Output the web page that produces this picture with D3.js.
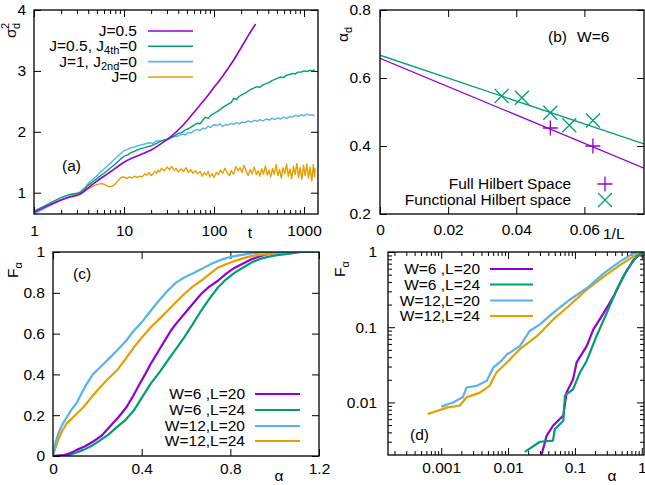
<!DOCTYPE html>
<html><head><meta charset="utf-8">
<script src="https://cdn.jsdelivr.net/npm/d3@7"></script>
<style>body{margin:0;background:#fff} svg text{font-family:"Liberation Sans",Arial,sans-serif;fill:#000}</style>
</head><body><svg id="c" width="645" height="485"></svg>
<script>
// ---------- DATA ----------
const colors = {purple:"#9400d3", green:"#009e73", blue:"#56b4e9", orange:"#e69f00"};

// panel (a): sigma_d^2 vs t
const aPurple = [[1,0.68],[1.5,0.80],[2,0.88],[2.5,0.93],[3,0.96],[3.5,1.01],[4,1.08],[5,1.19],[6,1.27],[7,1.34],[8,1.40],[10,1.50],[12,1.56],[15,1.62],[20,1.70],[25,1.79],[30,1.87],[35,1.95],[40,2.03],[46,2.12],[52,2.21],[60,2.32],[70,2.44],[85,2.59],[100,2.73],[120,2.88],[140,3.02],[164,3.17],[200,3.38],[240,3.58],[290,3.77]];
const aGreen = [[1,0.70],[1.3,0.78],[1.6,0.85],[2,0.92],[2.5,0.97],[3,0.99],[3.3,1.01],[3.7,1.07],[4,1.12],[4.5,1.18],[5,1.23],[5.5,1.28],[6,1.32],[7,1.40],[8,1.47],[9,1.54],[10,1.60],[11,1.62],[12,1.66],[13,1.68],[15,1.72],[17,1.74],[20,1.77],[23,1.81],[26,1.85],[30,1.88],[33,1.91],[36,1.93],[40,1.97],[44,1.99],[48,2.03],[52,2.05],[56,2.08],[60,2.11],[65,2.14],[70,2.13],[75,2.19],[80,2.24],[86,2.22],[92,2.27],[100,2.30],[108,2.33],[116,2.36],[125,2.40],[135,2.43],[145,2.46],[155,2.48],[165,2.55],[178,2.53],[190,2.58],[205,2.61],[220,2.63],[240,2.67],[260,2.70],[280,2.72],[300,2.74],[325,2.73],[350,2.77],[380,2.79],[410,2.81],[440,2.84],[475,2.86],[510,2.88],[550,2.90],[590,2.89],[640,2.93],[690,2.94],[740,2.96],[800,2.95],[860,2.98],[930,2.98],[1000,3.00],[1080,2.99],[1160,3.01],[1240,3.00],[1310,3.02]];
const aBlue = [[1,0.65],[1.3,0.74],[1.6,0.81],[2,0.88],[2.5,0.94],[3,0.98],[3.3,1.02],[3.7,1.09],[4,1.15],[4.5,1.22],[5,1.28],[5.5,1.34],[6,1.39],[7,1.48],[8,1.56],[9,1.63],[10,1.69],[11,1.71],[12,1.74],[13,1.75],[15,1.78],[17,1.80],[19,1.82],[21,1.81],[23,1.85],[26,1.85],[30,1.87],[33,1.89],[36,1.92],[40,1.93],[44,1.96],[48,1.95],[52,1.99],[56,1.98],[60,2.02],[65,2.04],[70,2.02],[75,2.06],[80,2.05],[86,2.09],[92,2.07],[100,2.12],[108,2.10],[116,2.13],[125,2.09],[135,2.12],[145,2.11],[155,2.14],[165,2.12],[178,2.15],[190,2.13],[205,2.16],[220,2.15],[240,2.18],[260,2.16],[280,2.19],[300,2.17],[325,2.20],[350,2.18],[380,2.21],[410,2.19],[440,2.22],[475,2.20],[510,2.23],[550,2.21],[590,2.24],[640,2.22],[690,2.25],[740,2.24],[800,2.27],[860,2.25],[930,2.28],[1000,2.26],[1080,2.29],[1160,2.27],[1240,2.28],[1310,2.26]];
const aOrange = [[1,0.67],[1.3,0.75],[1.6,0.82],[2,0.88],[2.4,0.92],[2.8,0.94],[3.1,0.95],[3.4,0.99],[3.8,1.04],[4.2,1.08],[4.7,1.12],[5.2,1.14],[5.7,1.15],[6.2,1.13],[6.7,1.10],[7.2,1.10],[7.7,1.12],[8.2,1.16],[8.7,1.21],[9.3,1.25],[10,1.26],[10.7,1.23],[11.5,1.26],[12.3,1.24],[13,1.27],[14,1.25],[15,1.27],[16,1.26],[17,1.31],[18,1.29],[19,1.33],[20,1.28],[21,1.31],[22,1.35],[23,1.32],[24,1.37],[25,1.34],[26,1.40],[28,1.36],[30,1.42],[32,1.38],[34,1.43],[36,1.37],[38,1.40],[40,1.34],[43,1.39],[46,1.35],[49,1.41],[52,1.33],[55,1.38],[58,1.32],[62,1.36],[66,1.31],[70,1.35],[74,1.27],[78,1.33],[82,1.29],[86,1.35],[90,1.26],[95,1.31],[100,1.25],[106,1.33],[112,1.30],[118,1.37],[125,1.32],[132,1.40],[140,1.33],[148,1.28],[156,1.36],[165,1.30],[175,1.43],[185,1.36],[195,1.41],[205,1.33],[215,1.45],[228,1.35],[240,1.28],[252,1.38],[265,1.31],[280,1.42],[295,1.30],[310,1.36],[325,1.27],[340,1.39],[355,1.30],[372,1.44],[390,1.29],[408,1.37],[427,1.26],[447,1.40],[468,1.30],[490,1.46],[512,1.28],[535,1.38],[560,1.24],[585,1.41],[612,1.31],[640,1.47],[668,1.27],[698,1.39],[730,1.23],[762,1.43],[796,1.30],[832,1.48],[868,1.25],[906,1.41],[946,1.22],[988,1.45],[1030,1.28],[1075,1.47],[1120,1.24],[1170,1.42],[1220,1.19],[1270,1.46],[1310,1.26],[1330,1.40]];
const aXTicks = [1,10,100,1000];
const aYTicks = [1,2,3,4];

// panel (b): alpha_d vs 1/L
const bFullX = [1/20, 1/16];
const bFullY = [0.453, 0.400];
const bFuncX = [1/28, 1/24, 1/20, 1/18, 1/16];
const bFuncY = [0.547, 0.542, 0.498, 0.461, 0.475];
const bFitX = [0, 0.0775];
const bFitFull = [0.658, 0.335];
const bFitFunc = [0.667, 0.406];
const bXTicks = [0, 0.02, 0.04, 0.06];
const bYTicks = [0.2, 0.4, 0.6, 0.8];

// panel (c): F_alpha vs alpha (linear)
const cW6L20 = [[0,0],[0.05,0.005],[0.08,0.015],[0.107,0.03],[0.14,0.045],[0.18,0.07],[0.22,0.10],[0.256,0.143],[0.295,0.19],[0.332,0.24],[0.362,0.295],[0.392,0.355],[0.418,0.405],[0.441,0.452],[0.465,0.495],[0.486,0.533],[0.51,0.575],[0.532,0.615],[0.56,0.655],[0.592,0.696],[0.63,0.745],[0.668,0.794],[0.705,0.83],[0.744,0.859],[0.78,0.893],[0.82,0.923],[0.86,0.945],[0.895,0.964],[0.93,0.978],[0.97,0.99],[1.01,0.997],[1.05,1.0],[1.2,1.0]];
const cW6L24 = [[0,0],[0.062,0.002],[0.1,0.015],[0.138,0.03],[0.175,0.05],[0.214,0.078],[0.25,0.105],[0.289,0.143],[0.33,0.18],[0.365,0.224],[0.40,0.285],[0.441,0.355],[0.48,0.41],[0.517,0.468],[0.555,0.525],[0.592,0.582],[0.63,0.645],[0.668,0.712],[0.705,0.77],[0.744,0.826],[0.78,0.865],[0.82,0.899],[0.86,0.925],[0.895,0.948],[0.93,0.965],[0.97,0.976],[1.01,0.985],[1.05,0.99],[1.09,0.996],[1.12,1.0],[1.2,1.0]];
const cW12L20 = [[0,0],[0.005,0.03],[0.012,0.07],[0.024,0.11],[0.04,0.15],[0.062,0.19],[0.085,0.23],[0.107,0.26],[0.13,0.31],[0.153,0.355],[0.18,0.40],[0.214,0.436],[0.25,0.475],[0.289,0.517],[0.33,0.565],[0.365,0.615],[0.40,0.655],[0.441,0.712],[0.48,0.765],[0.517,0.81],[0.555,0.85],[0.592,0.875],[0.63,0.895],[0.668,0.915],[0.71,0.94],[0.744,0.956],[0.78,0.97],[0.82,0.98],[0.86,0.987],[0.895,0.993],[0.93,0.997],[0.97,1.0],[1.2,1.0]];
const cW12L24 = [[0,0],[0.008,0.03],[0.024,0.08],[0.04,0.12],[0.062,0.16],[0.1,0.20],[0.138,0.24],[0.175,0.29],[0.214,0.338],[0.25,0.38],[0.289,0.42],[0.33,0.48],[0.365,0.533],[0.40,0.58],[0.441,0.631],[0.48,0.672],[0.517,0.712],[0.555,0.755],[0.592,0.794],[0.63,0.83],[0.668,0.859],[0.71,0.895],[0.744,0.923],[0.78,0.94],[0.82,0.956],[0.86,0.97],[0.895,0.98],[0.93,0.986],[0.97,0.99],[1.02,0.997],[1.07,1.0],[1.2,1.0]];
const cXTicks = [0, 0.4, 0.8, 1.2];
const cYTicks = [0, 0.2, 0.4, 0.6, 0.8, 1];

// panel (d): F_alpha vs alpha (log-log)
const dW6L20 = [[0.0317,0.002],[0.0377,0.0036],[0.047,0.0049],[0.067,0.0067],[0.075,0.0136],[0.094,0.0204],[0.106,0.034],[0.15,0.056],[0.188,0.093],[0.27,0.155],[0.38,0.257],[0.53,0.47],[0.75,0.784],[1.05,1]];
const dW6L24 = [[0.0178,0.0022],[0.03,0.003],[0.047,0.0031],[0.05,0.0044],[0.067,0.0057],[0.071,0.0123],[0.094,0.015],[0.119,0.025],[0.15,0.0356],[0.21,0.076],[0.30,0.155],[0.42,0.315],[0.60,0.58],[0.84,0.867],[1.07,1]];
const dW12L20 = [[0.001,0.0088],[0.0015,0.010],[0.0021,0.0117],[0.0024,0.0158],[0.0034,0.0166],[0.0048,0.0194],[0.006,0.029],[0.0079,0.0356],[0.0096,0.0435],[0.015,0.056],[0.021,0.089],[0.03,0.109],[0.047,0.155],[0.084,0.232],[0.15,0.33],[0.27,0.52],[0.47,0.745],[0.75,0.96],[0.97,1]];
const dW12L24 = [[0.00063,0.0070],[0.00126,0.0086],[0.0019,0.0091],[0.0024,0.0117],[0.0038,0.0135],[0.0053,0.0166],[0.0067,0.025],[0.0096,0.034],[0.015,0.051],[0.027,0.076],[0.047,0.126],[0.075,0.18],[0.15,0.315],[0.27,0.47],[0.47,0.67],[0.75,0.87],[1.05,1]];
const dXTicks = [0.001, 0.01, 0.1, 1];
const dYTicks = [0.01, 0.1, 1];

// ---------- DRAW ----------
const svg = d3.select("#c");
const FS = 15.5;

function logMinor(lo, hi) {
  const out = [];
  for (let e = Math.floor(Math.log10(lo)); e <= Math.ceil(Math.log10(hi)); e++) {
    for (let m = 2; m <= 9; m++) { const v = m * Math.pow(10, e); if (v > lo && v < hi) out.push(v); }
  }
  return out;
}

function panel(id, x, y, o) {
  const g = svg.append("g");
  const [x0, x1] = x.range(), [y1, y0] = y.range();
  g.append("clipPath").attr("id", "clip" + id).append("rect")
    .attr("x", x0).attr("y", y0).attr("width", x1 - x0).attr("height", y1 - y0);
  const styleAxis = sel => {
    sel.select(".domain").remove();
    sel.selectAll("line").attr("stroke", "#000").attr("stroke-width", 1);
    sel.selectAll("text").attr("font-size", FS).attr("font-family", '"Liberation Sans",Arial,sans-serif').attr("fill", "#000");
    sel.attr("font-size", null).attr("font-family", null);
  };
  g.append("g").attr("transform", `translate(0,${y1})`)
    .call(d3.axisBottom(x).tickValues(o.xTicks).tickSize(-7).tickPadding(o.xPad).tickFormat(o.xFmt)).call(styleAxis);
  g.append("g").attr("transform", `translate(0,${y0})`)
    .call(d3.axisTop(x).tickValues(o.xTicks).tickSize(-7).tickFormat("")).call(styleAxis);
  g.append("g").attr("transform", `translate(${x0},0)`)
    .call(d3.axisLeft(y).tickValues(o.yTicks).tickSize(-7).tickPadding(o.yPad).tickFormat(o.yFmt)).call(styleAxis);
  g.append("g").attr("transform", `translate(${x1},0)`)
    .call(d3.axisRight(y).tickValues(o.yTicks).tickSize(-7).tickFormat("")).call(styleAxis);
  if (o.xMinor) {
    g.append("g").attr("transform", `translate(0,${y1})`).call(d3.axisBottom(x).tickValues(o.xMinor).tickSize(-4).tickFormat("")).call(styleAxis);
    g.append("g").attr("transform", `translate(0,${y0})`).call(d3.axisTop(x).tickValues(o.xMinor).tickSize(-4).tickFormat("")).call(styleAxis);
  }
  if (o.yMinor) {
    g.append("g").attr("transform", `translate(${x0},0)`).call(d3.axisLeft(y).tickValues(o.yMinor).tickSize(-4).tickFormat("")).call(styleAxis);
    g.append("g").attr("transform", `translate(${x1},0)`).call(d3.axisRight(y).tickValues(o.yMinor).tickSize(-4).tickFormat("")).call(styleAxis);
  }
  const plot = g.append("g").attr("clip-path", `url(#clip${id})`);
  g.append("rect").attr("x", x0).attr("y", y0).attr("width", x1 - x0).attr("height", y1 - y0)
    .attr("fill", "none").attr("stroke", "#000").attr("stroke-width", 1.3);
  return {g, plot};
}

function series(plot, x, y, data, color, w, curve) {
  plot.append("path").datum(data)
    .attr("d", d3.line().curve(curve || d3.curveLinear).x(d => x(d[0])).y(d => y(d[1])))
    .attr("fill", "none").attr("stroke", color).attr("stroke-width", w).attr("stroke-linejoin", "round");
}

function legend(g, xText, xl0, xl1, ys, items, w) {
  items.forEach((it, i) => {
    const t = g.append("text").attr("x", xText).attr("y", ys[i] + 5).attr("text-anchor", "end").attr("font-size", FS);
    it.parts.forEach(p => {
      if (p.sub) t.append("tspan").attr("dy", 3).attr("font-size", 11).text(p.sub);
      else t.append("tspan").attr("dy", p.back ? -3 : 0).text(p.t);
    });
    g.append("line").attr("x1", xl0).attr("x2", xl1).attr("y1", ys[i]).attr("y2", ys[i])
      .attr("stroke", it.color).attr("stroke-width", w);
  });
}

function vlabel(cx, cy, main, sub, sup) {
  const g = svg.append("g").attr("transform", `translate(${cx},${cy}) rotate(-90)`);
  g.append("text").attr("x", 0).attr("y", 0).attr("font-size", FS).text(main);
  const w = main === "F" ? 9.5 : 9;
  if (sub) g.append("text").attr("x", w).attr("y", 4).attr("font-size", 11).text(sub);
  if (sup) g.append("text").attr("x", w).attr("y", -7).attr("font-size", 11).text(sup);
}

// Panel (a)
{
  const x = d3.scaleLog().domain([1, 1430]).range([34, 318]);
  const y = d3.scaleLinear().domain([0.65, 4]).range([214, 10]);
  const {g, plot} = panel("a", x, y, {xTicks: aXTicks, xFmt: d3.format("d"), yTicks: aYTicks, yFmt: d3.format("d"),
    xPad: 11, yPad: 8, xMinor: logMinor(1, 1430)});
  series(plot, x, y, aOrange, colors.orange, 1.4);
  series(plot, x, y, aBlue, colors.blue, 1.4);
  series(plot, x, y, aGreen, colors.green, 1.4);
  series(plot, x, y, aPurple, colors.purple, 1.6, d3.curveMonotoneX);
  legend(g, 137, 148, 193, [31, 46.3, 61.6, 77], [
    {parts: [{t: "J=0.5"}], color: colors.purple},
    {parts: [{t: "J=0.5, J"}, {sub: "4th"}, {t: "=0", back: true}], color: colors.green},
    {parts: [{t: "J=1, J"}, {sub: "2nd"}, {t: "=0", back: true}], color: colors.blue},
    {parts: [{t: "J=0"}], color: colors.orange}], 1.6);
  g.append("text").attr("x", 62).attr("y", 171).attr("font-size", FS).text("(a)");
  g.append("text").attr("x", 250).attr("y", 238).attr("text-anchor", "middle").attr("font-size", FS).text("t");
  vlabel(16, 38, "σ", "d", "2");
}

// Panel (b)
{
  const x = d3.scaleLinear().domain([0, 0.0775]).range([380, 644]);
  const y = d3.scaleLinear().domain([0.2, 0.8]).range([214, 10]);
  const {g, plot} = panel("b", x, y, {xTicks: bXTicks, xFmt: d => d === 0 ? "0" : d3.format(".2f")(d), yTicks: bYTicks, yFmt: d3.format(".1f"),
    xPad: 10, yPad: 9});
  const line = d3.line().x(d => x(d[0])).y(d => y(d[1]));
  plot.append("path").datum(bFitX.map((v, i) => [v, bFitFunc[i]])).attr("d", line).attr("fill", "none").attr("stroke", colors.green).attr("stroke-width", 1.3);
  plot.append("path").datum(bFitX.map((v, i) => [v, bFitFull[i]])).attr("d", line).attr("fill", "none").attr("stroke", colors.purple).attr("stroke-width", 1.3);
  const plus = "M-7.5,0H7.5M0,-7.5V7.5", cross = "M-7,-7L7,7M7,-7L-7,7";
  plot.selectAll(".pf").data(bFullX.map((v, i) => [v, bFullY[i]])).join("path")
    .attr("transform", d => `translate(${x(d[0])},${y(d[1])})`).attr("d", plus).attr("stroke", colors.purple).attr("stroke-width", 1.3).attr("fill", "none");
  plot.selectAll(".pc").data(bFuncX.map((v, i) => [v, bFuncY[i]])).join("path")
    .attr("transform", d => `translate(${x(d[0])},${y(d[1])})`).attr("d", cross).attr("stroke", colors.green).attr("stroke-width", 1.3).attr("fill", "none");
  g.append("text").attr("x", 571).attr("y", 189).attr("text-anchor", "end").attr("font-size", FS).text("Full Hilbert Space");
  g.append("text").attr("x", 571).attr("y", 205).attr("text-anchor", "end").attr("font-size", FS).text("Functional Hilbert space");
  g.append("path").attr("transform", "translate(605,184)").attr("d", plus).attr("stroke", colors.purple).attr("stroke-width", 1.3);
  g.append("path").attr("transform", "translate(605,200)").attr("d", cross).attr("stroke", colors.green).attr("stroke-width", 1.3);
  g.append("text").attr("x", 548).attr("y", 42).attr("font-size", FS).text("(b)");
  g.append("text").attr("x", 577).attr("y", 42).attr("font-size", FS).text("W=6");
  g.append("text").attr("x", 603).attr("y", 239).attr("font-size", FS).text("1/L");
  vlabel(348, 42, "α", "d", null);
}

// Panel (c)
{
  const x = d3.scaleLinear().domain([0, 1.2]).range([53, 319]);
  const y = d3.scaleLinear().domain([0, 1]).range([456, 252]);
  const {g, plot} = panel("c", x, y, {xTicks: cXTicks, xFmt: d => d === 0 ? "0" : d3.format(".1f")(d), yTicks: cYTicks, yFmt: d => (d === 0 || d === 1) ? d3.format("d")(d) : d3.format(".1f")(d),
    xPad: 7, yPad: 8});
  series(plot, x, y, cW6L24, colors.green, 2.2);
  series(plot, x, y, cW6L20, colors.purple, 2.2);
  series(plot, x, y, cW12L24, colors.orange, 2.2);
  series(plot, x, y, cW12L20, colors.blue, 2.2);
  legend(g, 245, 255, 300, [394, 410, 426, 441], [
    {parts: [{t: "W=6 ,L=20"}], color: colors.purple},
    {parts: [{t: "W=6 ,L=24"}], color: colors.green},
    {parts: [{t: "W=12,L=20"}], color: colors.blue},
    {parts: [{t: "W=12,L=24"}], color: colors.orange}], 2.2);
  g.append("text").attr("x", 73).attr("y", 279).attr("font-size", FS).text("(c)");
  g.append("text").attr("x", 279).attr("y", 481).attr("text-anchor", "middle").attr("font-size", FS).text("α");
  vlabel(18, 278, "F", "α", null);
}

// Panel (d)
{
  const x = d3.scaleLog().domain([1.6e-4, 1.08]).range([388, 644]);
  const y = d3.scaleLog().domain([0.002, 1]).range([455, 252]);
  const {g, plot} = panel("d", x, y, {xTicks: dXTicks, xFmt: d => String(d), yTicks: dYTicks, yFmt: d => String(d),
    xPad: 7, yPad: 11, xMinor: logMinor(1.6e-4, 1.08), yMinor: logMinor(0.002, 1)});
  series(plot, x, y, dW12L24, colors.orange, 2.2);
  series(plot, x, y, dW12L20, colors.blue, 2.2);
  series(plot, x, y, dW6L20, colors.purple, 2.2);
  series(plot, x, y, dW6L24, colors.green, 2.2);
  legend(g, 480, 490, 533, [269, 284.5, 300.5, 316], [
    {parts: [{t: "W=6 ,L=20"}], color: colors.purple},
    {parts: [{t: "W=6 ,L=24"}], color: colors.green},
    {parts: [{t: "W=12,L=20"}], color: colors.blue},
    {parts: [{t: "W=12,L=24"}], color: colors.orange}], 2.2);
  g.append("text").attr("x", 410).attr("y", 440).attr("font-size", FS).text("(d)");
  g.append("text").attr("x", 612).attr("y", 481).attr("text-anchor", "middle").attr("font-size", FS).text("α");
  vlabel(345, 277, "F", "α", null);
}
</script></body></html>
